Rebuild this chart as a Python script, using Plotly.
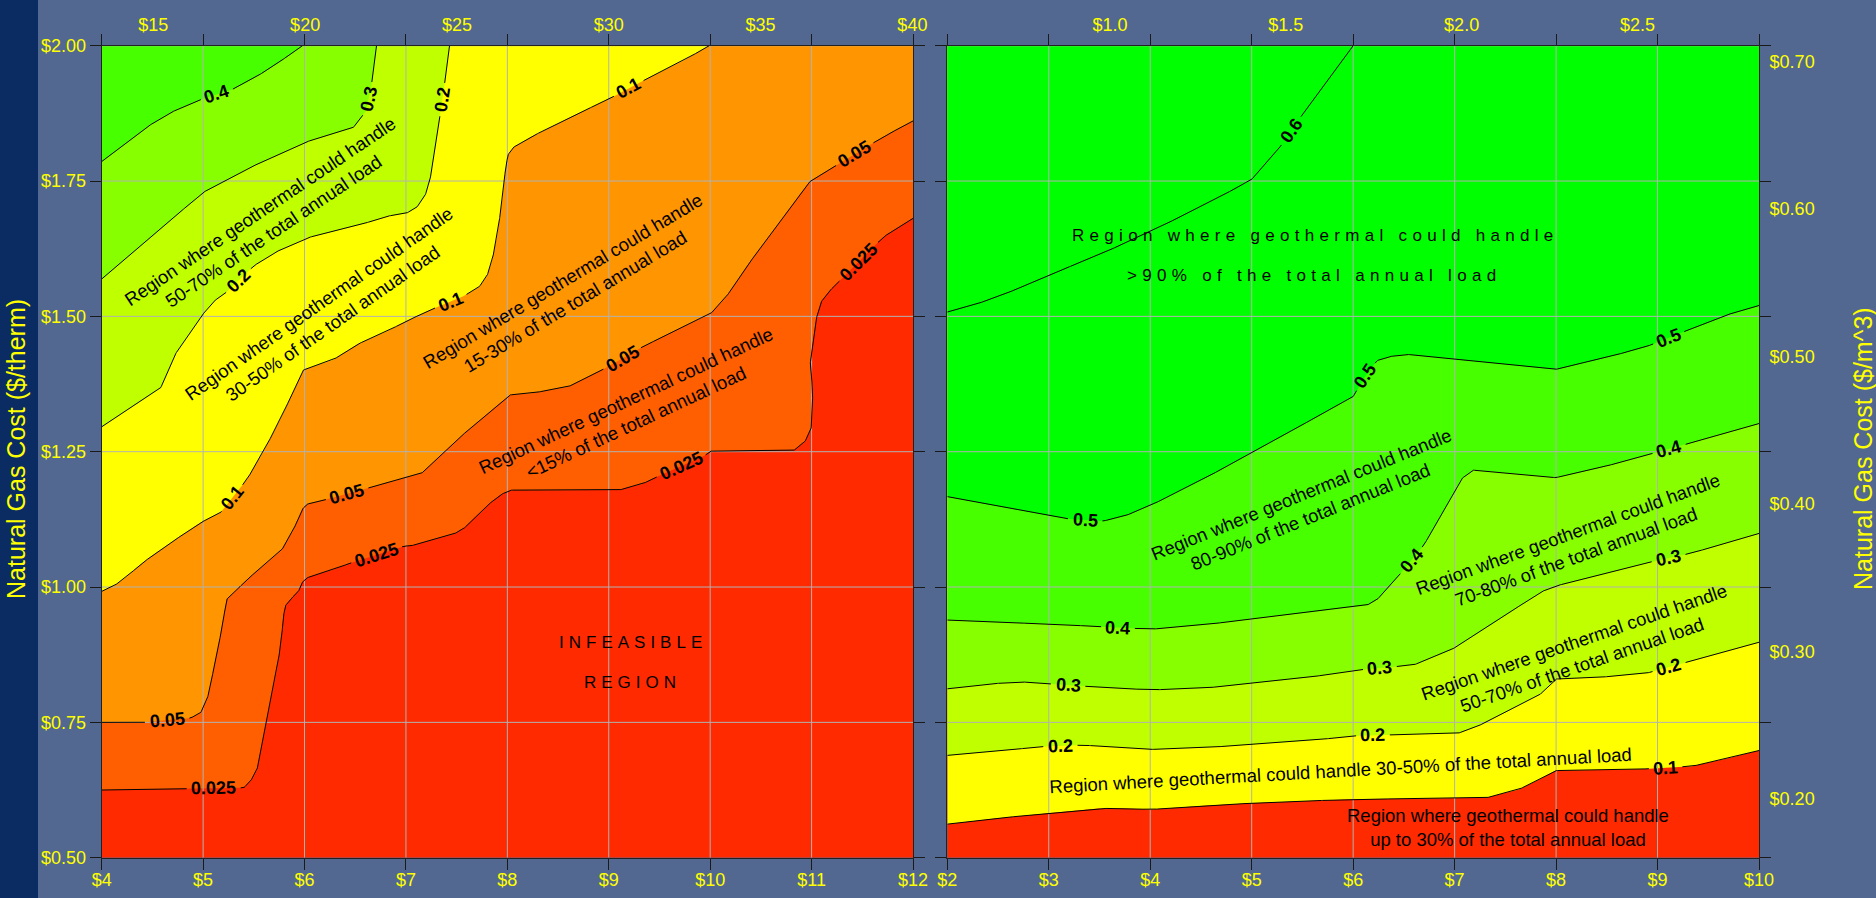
import math
import plotly.graph_objects as go

# ----------------------------------------------------------------- data
Y_RANGE = [0.5, 2.0]
Y_TICKS = [0.5, 0.75, 1.0, 1.25, 1.5, 1.75, 2.0]
Y_TICKTEXT = ["$0.50", "$0.75", "$1.00", "$1.25", "$1.50", "$1.75", "$2.00"]

L_X_RANGE = [4, 12]
L_X_TICKS = [4, 5, 6, 7, 8, 9, 10, 11, 12]
L_X_TICKTEXT = ["$4", "$5", "$6", "$7", "$8", "$9", "$10", "$11", "$12"]
L_TOP_RANGE = [13.3, 40.02]
L_TOP_TICKS = [15, 20, 25, 30, 35, 40]
L_TOP_TICKTEXT = ["$15", "$20", "$25", "$30", "$35", "$40"]

R_X_RANGE = [2, 10]
R_X_TICKS = [2, 3, 4, 5, 6, 7, 8, 9, 10]
R_X_TICKTEXT = ["$2", "$3", "$4", "$5", "$6", "$7", "$8", "$9", "$10"]
R_TOP_RANGE = [0.5375, 2.8456]
R_TOP_TICKS = [1.0, 1.5, 2.0, 2.5]
R_TOP_TICKTEXT = ["$1.0", "$1.5", "$2.0", "$2.5"]
M3_RANGE = [0.1602, 0.7106]
M3_TICKS = [0.2, 0.3, 0.4, 0.5, 0.6, 0.7]
M3_TICKTEXT = ["$0.20", "$0.30", "$0.40", "$0.50", "$0.60", "$0.70"]

# left panel contour lines (fraction of load)
L025_X = [4.0, 5.400, 5.466, 5.531, 5.597, 5.662, 5.728, 5.777, 5.787, 5.810, 5.859, 5.941, 5.974, 6.023,
          6.121, 6.285, 6.433, 6.990, 7.047, 7.461, 7.565, 7.772, 7.927, 8.031, 8.601, 9.119, 9.326, 9.482,
          9.948, 10.0, 10.829, 10.933, 10.995, 11.010, 11.010, 10.984, 11.010, 11.047, 11.088, 11.166,
          11.295, 11.710, 12.0]
L025_Y = [0.625, 0.629, 0.641, 0.662, 0.724, 0.786, 0.847, 0.909, 0.940, 0.965, 0.977, 0.992, 1.008, 1.017,
          1.023, 1.032, 1.043, 1.076, 1.076, 1.097, 1.107, 1.146, 1.170, 1.179, 1.179, 1.180, 1.190, 1.204,
          1.243, 1.251, 1.253, 1.268, 1.292, 1.331, 1.370, 1.409, 1.447, 1.496, 1.525, 1.545,
          1.569, 1.647, 1.681]
L025_LAB = [(5.105, 0.625), (6.711, 1.060), (9.725, 1.219), (11.451, 1.603)]

L05_X = [4.0, 4.416, 4.875, 4.974, 5.039, 5.072, 5.121, 5.170, 5.210, 5.230, 5.302, 5.433, 5.630, 5.777,
         5.892, 5.974, 6.023, 6.220, 6.630, 7.154, 7.334, 7.565, 7.927, 8.031, 8.238, 8.601, 8.964, 9.326,
         9.637, 10.0, 10.155, 10.363, 10.674, 10.881, 10.984, 11.192, 11.710, 12.0]
L05_Y = [0.750, 0.750, 0.758, 0.767, 0.792, 0.817, 0.866, 0.909, 0.952, 0.977, 0.989, 1.014, 1.045, 1.069,
         1.106, 1.143, 1.153, 1.162, 1.183, 1.210, 1.242, 1.282, 1.340, 1.355, 1.358, 1.370, 1.404, 1.443,
         1.472, 1.504, 1.535, 1.593, 1.671, 1.725, 1.749, 1.773, 1.832, 1.861]
L05_LAB = [(4.646, 0.752), (6.416, 1.173), (9.145, 1.418), (11.435, 1.796)]

L01_X = [4.0, 4.121, 4.252, 4.384, 4.515, 4.777, 4.974, 5.170, 5.433, 5.597, 5.761, 5.990, 6.285, 6.515,
         6.810, 7.0, 7.269, 7.565, 7.720, 7.798, 7.850, 7.902, 7.953, 7.979, 8.005, 8.057, 8.238, 8.601,
         9.016, 9.326, 9.741, 9.990]
L01_Y = [0.992, 1.002, 1.020, 1.042, 1.060, 1.094, 1.119, 1.137, 1.199, 1.251, 1.310, 1.401, 1.420, 1.448,
         1.472, 1.491, 1.514, 1.537, 1.554, 1.574, 1.603, 1.652, 1.720, 1.768, 1.798, 1.812, 1.832, 1.866,
         1.903, 1.934, 1.973, 2.0]
L01_LAB = [(5.302, 1.162), (7.440, 1.528), (9.197, 1.921)]

L02_X = [4.0, 4.580, 4.711, 4.843, 5.007, 5.105, 5.220, 5.498, 5.695, 6.023, 6.285, 6.613, 6.810, 7.0,
         7.105, 7.187, 7.236, 7.269, 7.295, 7.332, 7.399, 7.430]
L02_Y = [1.296, 1.367, 1.426, 1.463, 1.506, 1.528, 1.543, 1.593, 1.617, 1.645, 1.657, 1.673, 1.685, 1.690,
         1.701, 1.722, 1.750, 1.790, 1.817, 1.866, 1.953, 2.0]
L02_LAB = [(5.351, 1.565), (7.358, 1.900)]

L03_X = [4.0, 4.456, 5.0, 5.44, 5.995, 6.218, 6.477, 6.554, 6.606, 6.658, 6.684, 6.710]
L03_Y = [1.569, 1.642, 1.729, 1.773, 1.821, 1.834, 1.848, 1.866, 1.880, 1.924, 1.963, 2.0]
L03_LAB = [(6.632, 1.902)]

L04_X = [4.0, 4.249, 4.456, 4.663, 4.922, 5.285, 5.492, 5.699, 5.980]
L04_Y = [1.786, 1.822, 1.851, 1.875, 1.897, 1.919, 1.939, 1.963, 2.0]
L04_LAB = [(5.119, 1.919)]

# right panel contour lines
R01_X = [2.0, 2.451, 2.995, 3.487, 3.746, 4.005, 4.523, 5.041, 6.0, 6.596, 7.321, 7.632, 7.839, 7.995,
         8.409, 8.876, 9.342, 9.705, 10.0]
R01_Y = [0.562, 0.572, 0.582, 0.591, 0.591, 0.589, 0.596, 0.601, 0.608, 0.609, 0.611, 0.626, 0.645, 0.661,
         0.662, 0.664, 0.669, 0.684, 0.698]
R01_LAB = [(9.083, 0.664)]

R02_X = [2.0, 2.451, 2.917, 3.332, 4.005, 4.523, 5.041, 5.560, 6.0, 6.596, 7.036, 7.218, 7.528, 7.839,
         7.995, 8.409, 8.876, 9.342, 9.705, 10.0]
R02_Y = [0.689, 0.696, 0.705, 0.708, 0.700, 0.703, 0.710, 0.716, 0.725, 0.728, 0.730, 0.742, 0.771, 0.801,
         0.830, 0.833, 0.840, 0.864, 0.883, 0.898]
R02_LAB = [(3.114, 0.705), (6.192, 0.726), (9.109, 0.854)]

R03_X = [2.0, 2.347, 2.710, 3.487, 4.005, 4.523, 5.041, 5.560, 6.0, 6.596, 6.959, 7.373, 7.839, 7.995,
         8.409, 8.876, 9.342, 9.705, 10.0]
R03_Y = [0.812, 0.820, 0.825, 0.815, 0.810, 0.813, 0.823, 0.833, 0.846, 0.856, 0.883, 0.932, 0.990, 1.002,
         1.021, 1.044, 1.063, 1.083, 1.099]
R03_LAB = [(3.192, 0.818), (6.264, 0.846), (9.109, 1.053)]

R04_X = [2.0, 2.451, 2.969, 4.005, 4.523, 5.041, 5.560, 6.130, 6.233, 6.440, 6.699, 6.907, 7.062, 7.176,
         7.632, 7.995, 8.409, 8.876, 9.342, 9.705, 10.0]
R04_Y = [0.939, 0.935, 0.932, 0.922, 0.930, 0.942, 0.953, 0.966, 0.976, 1.019, 1.078, 1.146, 1.199, 1.216,
         1.209, 1.202, 1.219, 1.243, 1.267, 1.287, 1.302]
R04_LAB = [(3.679, 0.925), (6.570, 1.049), (9.109, 1.257)]

R05_X = [2.0, 2.451, 2.969, 3.228, 3.539, 3.746, 4.005, 4.523, 4.990, 5.560, 6.0, 6.119, 6.233, 6.337,
         6.518, 7.010, 7.528, 7.995, 8.409, 8.876, 9.290, 9.705, 10.0]
R05_Y = [1.167, 1.151, 1.133, 1.125, 1.122, 1.131, 1.151, 1.199, 1.248, 1.306, 1.352, 1.389, 1.418, 1.425,
         1.430, 1.421, 1.411, 1.402, 1.420, 1.443, 1.474, 1.504, 1.520]
R05_LAB = [(3.358, 1.125), (6.119, 1.389), (9.109, 1.460)]

R06_X = [2.0, 2.244, 2.554, 2.969, 3.487, 4.005, 4.523, 4.990, 5.145, 5.275, 5.508, 5.663, 5.819, 6.0]
R06_Y = [1.508, 1.520, 1.540, 1.574, 1.613, 1.657, 1.705, 1.751, 1.783, 1.812, 1.875, 1.914, 1.953, 2.0]
R06_LAB = [(5.378, 1.844)]

L_LEVELS = [0.025, 0.05, 0.1, 0.2, 0.3, 0.4]
R_LEVELS = [0.1, 0.2, 0.3, 0.4, 0.5, 0.6]

# ----------------------------------------------------------------- style
W_PX, H_PX = 1876, 898
L_XPX = (101.7, 913.0)
R_XPX = (947.3, 1759.0)
Y_PX = (857.7, 45.7)  # bottom, top
FONT = "Liberation Sans, Arial, sans-serif"
YELLOW = "#ffff00"
BG = "#526891"
NAVY = "#0a2c62"

L_BASE = "#ff2a00"
L_COLORS = ["#ff5f00", "#ff9500", "#ffff00", "#bfff00", "#88ff00", "#48ff00"]
R_BASE = "#ff2a00"
R_COLORS = ["#ffff00", "#bfff00", "#88ff00", "#48ff00", "#00ff00", "#00ff00"]

LAB_FS = 18
REG_FS = 18.5

L_LINES = [(L025_X, L025_Y, L025_LAB), (L05_X, L05_Y, L05_LAB), (L01_X, L01_Y, L01_LAB),
           (L02_X, L02_Y, L02_LAB), (L03_X, L03_Y, L03_LAB), (L04_X, L04_Y, L04_LAB)]
R_LINES = [(R01_X, R01_Y, R01_LAB), (R02_X, R02_Y, R02_LAB), (R03_X, R03_Y, R03_LAB),
           (R04_X, R04_Y, R04_LAB), (R05_X, R05_Y, R05_LAB), (R06_X, R06_Y, R06_LAB)]


def make_mapper(xr, xpx):
    def f(x, y):
        px = xpx[0] + (x - xr[0]) / (xr[1] - xr[0]) * (xpx[1] - xpx[0])
        py = Y_PX[0] + (y - Y_RANGE[0]) / (Y_RANGE[1] - Y_RANGE[0]) * (Y_PX[1] - Y_PX[0])
        return px, py
    return f


def point_at(xs, ys, P, cum, s):
    s = max(0.0, min(cum[-1], s))
    for i in range(len(P) - 1):
        if cum[i + 1] >= s:
            seg = cum[i + 1] - cum[i]
            t = 0.0 if seg == 0 else (s - cum[i]) / seg
            return (xs[i] + t * (xs[i + 1] - xs[i]), ys[i] + t * (ys[i + 1] - ys[i]),
                    P[i][0] + t * (P[i + 1][0] - P[i][0]), P[i][1] + t * (P[i + 1][1] - P[i][1]))
    return xs[-1], ys[-1], P[-1][0], P[-1][1]


def process_line(xs, ys, labels, level, f, xref, yref):
    P = [f(x, y) for x, y in zip(xs, ys)]
    cum = [0.0]
    for i in range(1, len(P)):
        cum.append(cum[-1] + math.hypot(P[i][0] - P[i - 1][0], P[i][1] - P[i - 1][1]))
    text = f"{level:g}"
    tw = LAB_FS * (0.556 * sum(c.isdigit() for c in text) + 0.278 * text.count("."))
    rects, anns = [], []
    for lx, ly in labels:
        lp = f(lx, ly)
        best = None
        for i in range(len(P) - 1):
            ax, ay = P[i]
            bx, by = P[i + 1]
            dx, dy = bx - ax, by - ay
            L2 = dx * dx + dy * dy
            t = 0.0 if L2 == 0 else max(0.0, min(1.0, ((lp[0] - ax) * dx + (lp[1] - ay) * dy) / L2))
            d = (ax + t * dx - lp[0]) ** 2 + (ay + t * dy - lp[1]) ** 2
            if best is None or d < best[0]:
                best = (d, cum[i] + t * math.sqrt(L2))
        s0 = best[1]
        cx, cy, cpx, cpy = point_at(xs, ys, P, cum, s0)
        _, _, apx, apy = point_at(xs, ys, P, cum, s0 - tw / 2)
        _, _, bpx, bpy = point_at(xs, ys, P, cum, s0 + tw / 2)
        ux, uy = bpx - apx, bpy - apy
        n = math.hypot(ux, uy) or 1.0
        ux, uy = ux / n, uy / n
        ang = math.degrees(math.atan2(uy, ux))
        if ang > 90:
            ang -= 180
        if ang <= -90:
            ang += 180
        rects.append((cpx, cpy, ux, uy, tw / 2 + 4, LAB_FS * 0.55))
        anns.append(dict(text=f"<b>{text}</b>", x=cx, y=cy, xref=xref, yref=yref, textangle=ang,
                         showarrow=False, xanchor="center", yanchor="middle",
                         font=dict(family=FONT, size=LAB_FS, color="black")))
    outx, outy = [], []
    prev_masked = False
    for i in range(len(P) - 1):
        seg = cum[i + 1] - cum[i]
        n = max(1, int(math.ceil(seg / 1.0)))
        last = (i == len(P) - 2)
        for k in range(n + (1 if last else 0)):
            t = k / n
            px = P[i][0] + t * (P[i + 1][0] - P[i][0])
            py = P[i][1] + t * (P[i + 1][1] - P[i][1])
            masked = False
            for r in rects:
                du, dv = px - r[0], py - r[1]
                if abs(du * r[2] + dv * r[3]) < r[4] and abs(-du * r[3] + dv * r[2]) < r[5]:
                    masked = True
                    break
            if masked:
                if not prev_masked:
                    outx.append(None)
                    outy.append(None)
                prev_masked = True
            else:
                outx.append(xs[i] + t * (xs[i + 1] - xs[i]))
                outy.append(ys[i] + t * (ys[i + 1] - ys[i]))
                prev_masked = False
    return outx, outy, anns


fig = go.Figure()
annotations = []


def add_panel(xr, xpx, lines, levels, base, colors, xax, yax, xticks):
    f = make_mapper(xr, xpx)
    fig.add_trace(go.Scatter(x=[xr[0], xr[1], xr[1], xr[0]],
                             y=[Y_RANGE[0], Y_RANGE[0], Y_RANGE[1], Y_RANGE[1]],
                             fill="toself", fillcolor=base, mode="none", xaxis=xax, yaxis=yax,
                             hoverinfo="skip", showlegend=False))
    for (xs, ys, _), c in zip(lines, colors):
        fig.add_trace(go.Scatter(x=list(xs) + [xr[1], xr[0]], y=list(ys) + [Y_RANGE[1], Y_RANGE[1]],
                                 fill="toself", fillcolor=c, mode="none", xaxis=xax, yaxis=yax,
                                 hoverinfo="skip", showlegend=False))
    # grid lines over fills
    gx, gy = [], []
    for v in xticks[1:-1]:
        gx += [v, v, None]
        gy += [Y_RANGE[0], Y_RANGE[1], None]
    for v in Y_TICKS[1:]:
        gx += [xr[0], xr[1], None]
        gy += [v, v, None]
    fig.add_trace(go.Scatter(x=gx, y=gy, mode="lines", line=dict(color="#b2b2b2", width=1),
                             xaxis=xax, yaxis=yax, hoverinfo="skip", showlegend=False))
    xref = "x" if xax == "x" else xax
    yref = "y" if yax == "y" else yax
    for (xs, ys, labs), lv in zip(lines, levels):
        ox, oy, anns = process_line(xs, ys, labs, lv, f, xref, yref)
        fig.add_trace(go.Scatter(x=ox, y=oy, mode="lines", line=dict(color="black", width=1),
                                 xaxis=xax, yaxis=yax, hoverinfo="skip", showlegend=False))
        annotations.extend(anns)


add_panel(L_X_RANGE, L_XPX, L_LINES, L_LEVELS, L_BASE, L_COLORS, "x", "y", L_X_TICKS)
add_panel(R_X_RANGE, R_XPX, R_LINES, R_LEVELS, R_BASE, R_COLORS, "x2", "y2", R_X_TICKS)

# invisible anchors for the secondary (label-only) axes
fig.add_trace(go.Scatter(x=L_TOP_TICKS, y=[Y_RANGE[0]] * len(L_TOP_TICKS), xaxis="x3", yaxis="y",
                         mode="markers", marker=dict(opacity=0), hoverinfo="skip", showlegend=False))
fig.add_trace(go.Scatter(x=R_TOP_TICKS, y=[Y_RANGE[0]] * len(R_TOP_TICKS), xaxis="x4", yaxis="y2",
                         mode="markers", marker=dict(opacity=0), hoverinfo="skip", showlegend=False))
fig.add_trace(go.Scatter(x=[R_X_RANGE[0]] * len(M3_TICKS), y=M3_TICKS, xaxis="x2", yaxis="y3",
                         mode="markers", marker=dict(opacity=0), hoverinfo="skip", showlegend=False))


def reg(text, x, y, ang, xref="x", yref="y", size=REG_FS):
    annotations.append(dict(text=text, x=x, y=y, xref=xref, yref=yref, textangle=ang, showarrow=False,
                            xanchor="center", yanchor="middle",
                            font=dict(family=FONT, size=size, color="black")))


RW = "Region where geothermal could handle"
reg(RW + "<br>50-70% of the total annual load", 5.626, 1.675, -34)
reg(RW + "<br>30-50% of the total annual load", 6.211, 1.505, -35)
reg(RW + "<br>15-30% of the total annual load", 8.604, 1.546, -31)
reg(RW + "<br>&lt;15% of the total annual load", 9.220, 1.324, -25)
reg('<span style="letter-spacing:5px">INFEASIBLE</span>', 9.237, 0.898, 0, size=17)
reg('<span style="letter-spacing:5px">REGION</span>', 9.237, 0.823, 0, size=17)

reg('<span style="letter-spacing:5.3px">' + RW + '</span>', 5.624, 1.649, 0, "x2", "y2", 17)
reg('<span style="letter-spacing:5.3px">&gt;90% of the total annual load</span>', 5.619, 1.575, 0,
    "x2", "y2", 17)
reg(RW + "<br>80-90% of the total annual load", 5.537, 1.150, -22, "x2", "y2")
reg(RW + "<br>70-80% of the total annual load", 8.156, 1.077, -20, "x2", "y2")
reg(RW + "<br>50-70% of the total annual load", 8.216, 0.878, -19, "x2", "y2")
reg(RW + " 30-50% of the total annual load", 5.878, 0.661, -3.2, "x2", "y2")
reg(RW + "<br>up to 30% of the total annual load", 7.526, 0.555, 0, "x2", "y2")

annotations.append(dict(text="Natural Gas Cost ($/therm)", x=16 / W_PX, y=0.5, xref="paper", yref="paper",
                        textangle=-90, showarrow=False, xanchor="center", yanchor="middle",
                        font=dict(family=FONT, size=25, color=YELLOW)))
annotations.append(dict(text="Natural Gas Cost ($/m^3)", x=1863 / W_PX, y=0.5, xref="paper", yref="paper",
                        textangle=-90, showarrow=False, xanchor="center", yanchor="middle",
                        font=dict(family=FONT, size=25, color=YELLOW)))

TICKFONT = dict(family=FONT, size=18, color=YELLOW)
Y_DOM = [1 - Y_PX[0] / H_PX, 1 - Y_PX[1] / H_PX]
L_DOM = [L_XPX[0] / W_PX, L_XPX[1] / W_PX]
R_DOM = [R_XPX[0] / W_PX, R_XPX[1] / W_PX]

main_ax = dict(ticks="outside", ticklen=11, tickwidth=1, tickcolor="#1a1a1a", showline=True,
               linecolor="#222222", linewidth=1, mirror="ticks", showgrid=False, zeroline=False,
               tickfont=TICKFONT, fixedrange=True, automargin=False)
label_ax = dict(showline=False, showgrid=False, zeroline=False, tickfont=TICKFONT, fixedrange=True,
                ticks="outside", tickcolor="rgba(0,0,0,0)", automargin=False)

fig.update_layout(
    template="none",
    width=W_PX, height=H_PX, autosize=False,
    margin=dict(l=0, r=0, t=0, b=0, pad=0, autoexpand=False),
    paper_bgcolor=BG, plot_bgcolor=BG,
    showlegend=False,
    xaxis=dict(domain=L_DOM, range=L_X_RANGE, anchor="y", tickmode="array", tickvals=L_X_TICKS,
               ticktext=L_X_TICKTEXT, ticklabelstandoff=-5, **main_ax),
    yaxis=dict(domain=Y_DOM, range=Y_RANGE, anchor="x", tickmode="array", tickvals=Y_TICKS,
               ticktext=Y_TICKTEXT, **main_ax),
    xaxis2=dict(domain=R_DOM, range=R_X_RANGE, anchor="y2", tickmode="array", tickvals=R_X_TICKS,
                ticktext=R_X_TICKTEXT, ticklabelstandoff=-5, **main_ax),
    yaxis2=dict(domain=Y_DOM, range=Y_RANGE, anchor="x2", tickmode="array", tickvals=Y_TICKS,
                showticklabels=False, **main_ax),
    xaxis3=dict(overlaying="x", anchor="y", side="top", range=L_TOP_RANGE, tickmode="array",
                tickvals=L_TOP_TICKS, ticktext=L_TOP_TICKTEXT, ticklen=7, **label_ax),
    xaxis4=dict(overlaying="x2", anchor="y2", side="top", range=R_TOP_RANGE, tickmode="array",
                tickvals=R_TOP_TICKS, ticktext=R_TOP_TICKTEXT, ticklen=7, **label_ax),
    yaxis3=dict(overlaying="y2", anchor="x2", side="right", range=M3_RANGE, tickmode="array",
                tickvals=M3_TICKS, ticktext=M3_TICKTEXT, ticklen=6, **label_ax),
    shapes=[dict(type="rect", xref="paper", yref="paper", x0=0, x1=38 / W_PX, y0=0, y1=1,
                 fillcolor=NAVY, line=dict(width=0), layer="below")],
    annotations=annotations,
)

fig.write_html("out.html")
